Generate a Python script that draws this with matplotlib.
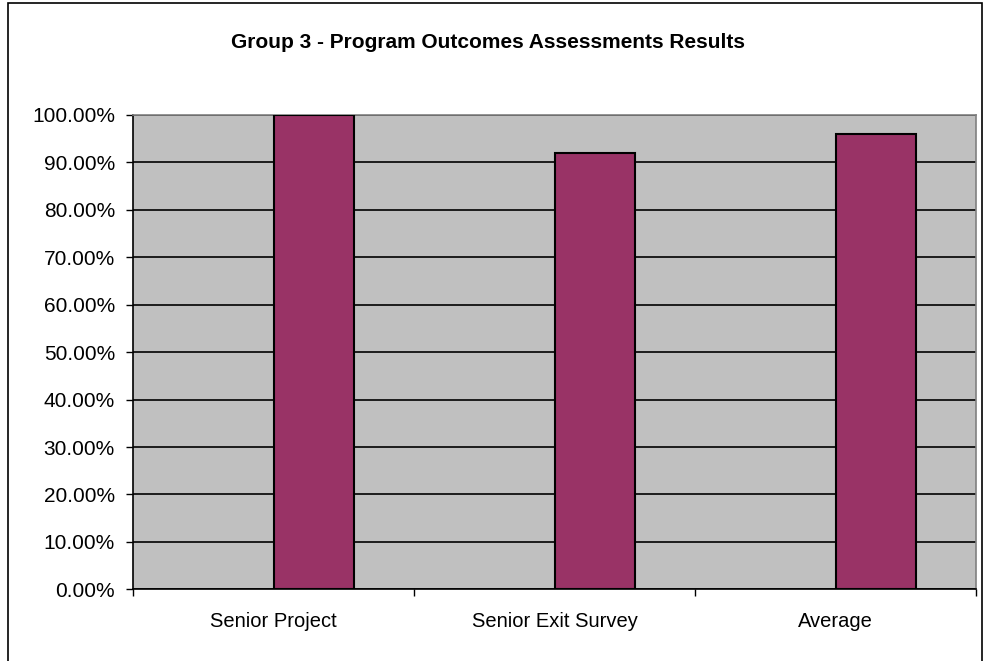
import matplotlib
matplotlib.use("Agg")
import matplotlib.pyplot as plt
from matplotlib.patches import Rectangle
from matplotlib.ticker import FuncFormatter, MultipleLocator

categories = ["Senior Project", "Senior Exit Survey", "Average"]
results = [1.00, 0.92, 0.96]

plt.rcParams['font.family'] = ['Liberation Sans', 'DejaVu Sans']

fig = plt.figure(figsize=(9.84, 6.61), dpi=100)

# outer chart border (bottom edge is cut off in the original)
fig.patches.append(Rectangle((8 / 984, -0.05), 974 / 984, 1.05 - 3 / 661,
                             transform=fig.transFigure, fill=False,
                             edgecolor='black', linewidth=1.2))

ax = fig.add_axes([133 / 984, 71.7 / 661, 843 / 984, 474.3 / 661])
ax.set_facecolor('#C0C0C0')

# Excel-style: bar sits in the right half of each category slot
bar_w = 1 / 3.5
xs = list(range(len(categories)))
ax.bar(xs, results, width=bar_w, align='edge', color='#993366',
       edgecolor='black', linewidth=1.5, zorder=3)

ax.set_xlim(-0.5, len(categories) - 0.5)
ax.set_ylim(0, 1.0)
ax.yaxis.set_major_locator(MultipleLocator(0.1))
ax.yaxis.set_major_formatter(FuncFormatter(lambda v, p: f"{v * 100:.2f}%"))
ax.grid(axis='y', color='black', linewidth=1.2, zorder=1)

ax.set_xticks([i - 0.5 for i in range(len(categories) + 1)])
ax.set_xticklabels([])
ax.set_xticks(xs, minor=True)
ax.set_xticklabels(categories, minor=True)
ax.tick_params(axis='x', which='minor', length=0, pad=16.5, labelsize=14.5)
ax.tick_params(axis='x', which='major', length=5, width=1, color='black')
ax.tick_params(axis='y', length=5, width=1, labelsize=15, pad=8)

for side in ['top', 'right']:
    ax.spines[side].set_color('#808080')
    ax.spines[side].set_linewidth(1.2)
for side in ['left', 'bottom']:
    ax.spines[side].set_color('black')
    ax.spines[side].set_linewidth(1.2)

fig.text(488 / 984, 1 - 43 / 661, "Group 3 - Program Outcomes Assessments Results",
         ha='center', va='center', fontsize=15, fontweight='bold')

plt.savefig("out.png", dpi=100)
